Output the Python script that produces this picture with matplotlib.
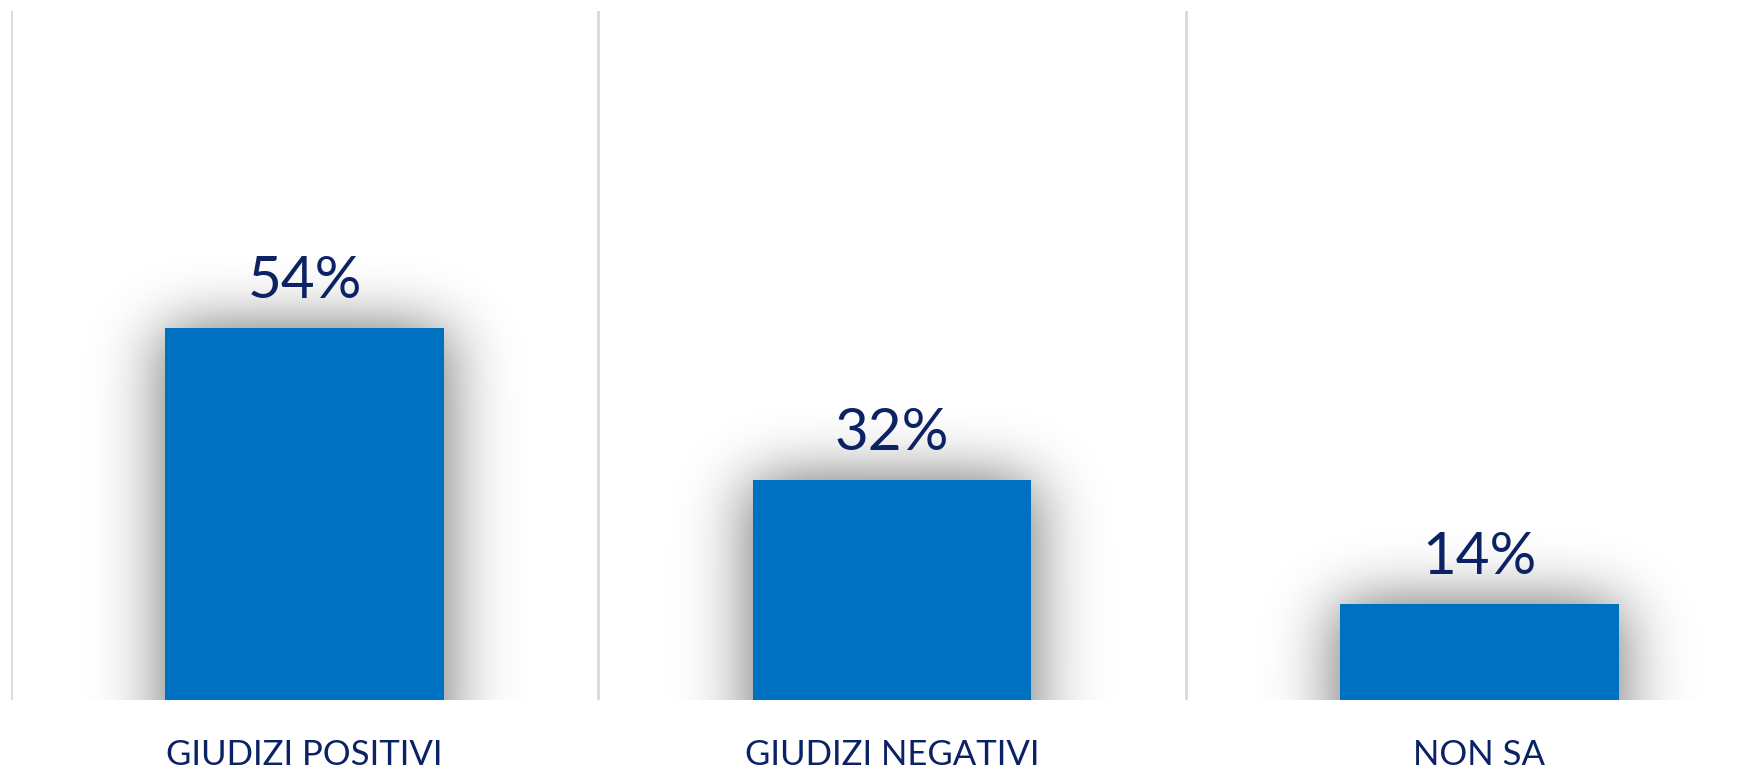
import math
import numpy as np
import matplotlib
matplotlib.use("Agg")
import matplotlib.pyplot as plt

categories = ["GIUDIZI POSITIVI", "GIUDIZI NEGATIVI", "NON SA"]
values = [54, 32, 14]

bar_color = "#0070c0"
text_color = "#0b2265"

W, H = 1755, 770
fig = plt.figure(figsize=(W / 100, H / 100), dpi=100)
# plot area runs past the right edge, like the source crop
ax = fig.add_axes([11 / W, 70 / H, 1762 / W, 689 / H])

x = np.arange(len(categories))
width = 0.475

# soft blurred shadow behind the bars (gaussian blur of each rectangle)
nx, ny = 900, 400
gx = np.linspace(-0.5, 2.5, nx)
gy = np.linspace(0, 100, ny)
erf = np.vectorize(math.erf)
sx = 34 / 587.0          # blur in data units along x (~34 px)
sy = 30 / 6.89           # blur in data units along y
shade = np.zeros((ny, nx))
for xi, v in zip(x, values):
    a, b = xi - width / 2, xi + width / 2
    px = 0.5 * (erf((gx - a) / (sx * 1.414)) - erf((gx - b) / (sx * 1.414)))
    py = 0.5 * (erf((gy + 10) / (sy * 1.414)) - erf((gy - v) / (sy * 1.414)))
    shade = np.maximum(shade, np.outer(py, px))
rgba = np.zeros((ny, nx, 4))
rgba[..., 3] = shade * 0.6
ax.imshow(rgba, extent=(-0.5, 2.5, 0, 100), origin="lower", aspect="auto",
          interpolation="bilinear", zorder=1)

ax.bar(x, values, width=width, color=bar_color, zorder=3)

for xi, v in zip(x, values):
    ax.text(xi, v + 2.9, f"{v}%", ha="center", va="bottom", fontsize=42,
            color=text_color, family="Lato", zorder=4)

for sep in [-0.5, 0.5, 1.5, 2.5]:
    ax.axvline(sep, color="#d9d9d9", lw=2, zorder=0)

ax.set_xlim(-0.5, 2.5)
ax.set_ylim(0, 100)
ax.set_xticks(x)
ax.set_xticklabels(categories, fontsize=25, color=text_color, family="Lato")
ax.tick_params(axis="x", length=0, pad=28)
ax.set_yticks([])
for s in ax.spines.values():
    s.set_visible(False)

fig.savefig("out.png", dpi=100)
